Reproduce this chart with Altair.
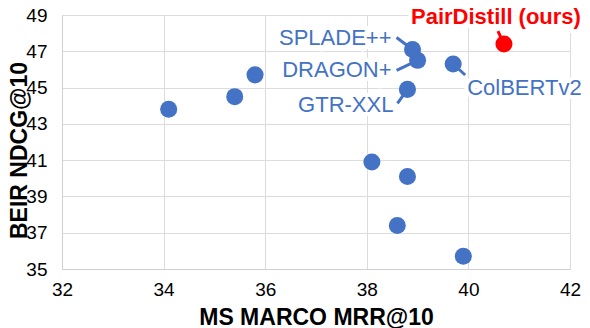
import altair as alt
import pandas as pd

# Data
names = ["", "", "", "", "", "", "", "SPLADE++", "DRAGON+", "ColBERTv2", "GTR-XXL", "PairDistill (ours)"]
mrr = [34.1, 35.4, 35.8, 38.1, 38.8, 38.6, 39.9, 38.9, 39.0, 39.7, 38.8, 40.7]
ndcg = [43.8, 44.5, 45.7, 40.9, 40.1, 37.4, 35.7, 47.1, 46.5, 46.3, 44.9, 47.4]
x_ticks = [32, 34, 36, 38, 40, 42]
y_ticks = [35, 37, 39, 41, 43, 45, 47, 49]

df = pd.DataFrame({"name": names, "mrr": mrr, "ndcg": ndcg})
df["ours"] = df["name"].str.contains("ours")

BLUE = "#4472C4"
RED = "#FF0000"
FONT = "Liberation Sans"

# label placement (pixel offsets): leader end dx, dy; text dx, dy, align
placement = {
    "SPLADE++": (-16, -12, -21, -11, "right"),
    "DRAGON+": (-21, 10, -26, 10, "right"),
    "GTR-XXL": (-10, 14, -14, 16, "right"),
    "ColBERTv2": (12, 11, 14, 24, "left"),
    "PairDistill (ours)": (-6, -13, -8, -27, "center"),
}

xs = alt.Scale(domain=[32, 42], nice=False, zero=False)
ys = alt.Scale(domain=[35, 49], nice=False, zero=False)

base = alt.Chart(df)

x_enc = alt.X("mrr:Q", scale=xs, title="MS MARCO MRR@10",
              axis=alt.Axis(values=x_ticks, ticks=False, labelPadding=11, labelFontSize=19,
                            labelFont=FONT, labelColor="black", titleFont=FONT, titleFontSize=23,
                            titleFontWeight="bold", titleColor="black", titleY=55,
                            titleBaseline="alphabetic", gridColor="#dcdcdc", domainColor="#d0d0d0",
                            labelFlush=False, labelOverlap=False))
y_enc = alt.Y("ndcg:Q", scale=ys, title="BEIR NDCG@10",
              axis=alt.Axis(values=y_ticks, ticks=False, labelPadding=15, labelFontSize=19,
                            labelFont=FONT, labelColor="black", titleFont=FONT, titleFontSize=23,
                            titleFontWeight="bold", titleColor="black", titleX=-36, titleY=135,
                            titleBaseline="alphabetic", titleAlign="center", titleAngle=-90,
                            gridColor="#dcdcdc", domainColor="#d0d0d0", labelFlush=False,
                            labelOverlap=False))

layers = []
# leader lines
for nm, (lx, ly, tx, ty, al) in placement.items():
    col = RED if "ours" in nm else BLUE
    layers.append(
        base.transform_filter(alt.datum.name == nm)
        .mark_rule(color=col, strokeWidth=3, x2Offset=lx, y2Offset=ly)
        .encode(x=x_enc, y=y_enc, x2="mrr:Q", y2="ndcg:Q")
    )

points = base.mark_circle(size=290, opacity=1).encode(
    x=x_enc, y=y_enc,
    color=alt.Color("ours:N", scale=alt.Scale(domain=[False, True], range=[BLUE, RED]), legend=None),
)
layers.append(points)

for nm, (lx, ly, tx, ty, al) in placement.items():
    ours = "ours" in nm
    col = RED if ours else BLUE
    weight = "bold" if ours else "normal"
    sub = base.transform_filter(alt.datum.name == nm)
    layers.append(sub.mark_text(font=FONT, fontSize=22, fontWeight=weight, align=al, baseline="middle",
                                dx=tx, dy=ty, color="white", stroke="white", strokeWidth=8)
                  .encode(x=x_enc, y=y_enc, text="name:N"))
    layers.append(sub.mark_text(font=FONT, fontSize=22, fontWeight=weight, align=al, baseline="middle",
                                dx=tx, dy=ty, color=col)
                  .encode(x=x_enc, y=y_enc, text="name:N"))

chart = alt.layer(*layers).properties(
    width=508, height=254,
    autosize=alt.AutoSizeParams(type="none"),
    padding={"left": 54, "top": 7, "right": 12, "bottom": 59},
).configure_view(stroke=None).configure(background="white")

chart.save("out.html", embed_options={"renderer": "svg", "actions": False})
